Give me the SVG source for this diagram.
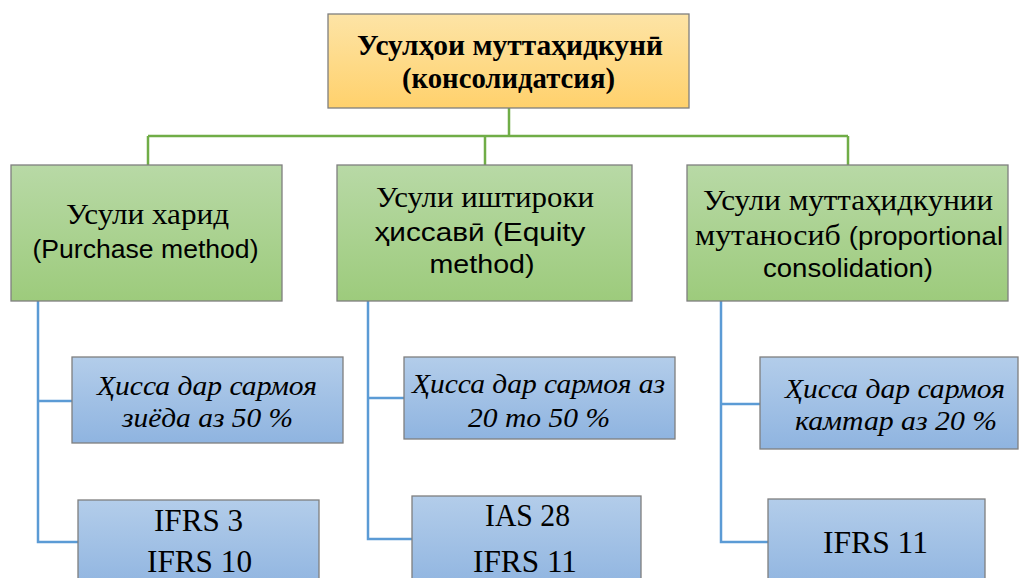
<svg xmlns="http://www.w3.org/2000/svg" width="1020" height="578" viewBox="0 0 1020 578">
<defs>
<linearGradient id="gOrange" x1="0" y1="0" x2="0" y2="1"><stop offset="0" stop-color="#fde4a6"/><stop offset="1" stop-color="#ffd16c"/></linearGradient>
<linearGradient id="gGreen" x1="0" y1="0" x2="0" y2="1"><stop offset="0" stop-color="#b8d9a6"/><stop offset="1" stop-color="#9dcb7c"/></linearGradient>
<linearGradient id="gBlue" x1="0" y1="0" x2="0" y2="1"><stop offset="0" stop-color="#b3cdea"/><stop offset="1" stop-color="#8fb4e0"/></linearGradient>
<style>
.box{stroke:#7f7f7f;stroke-width:1.3}
.or{fill:url(#gOrange)}
.gr{fill:url(#gGreen)}
.bl{fill:url(#gBlue)}
.t{font-family:"Liberation Serif","Times New Roman",serif;fill:#000;text-anchor:middle}
.tb{font-weight:bold;font-size:29px}
.tg{font-size:29px}
.ti{font-style:italic;font-size:28px}
.tn{font-size:31px}
.s{font-family:"Liberation Sans",Arial,sans-serif;font-size:25px}
.cg{stroke:#70ad47;stroke-width:2.5;fill:none}
.cb{stroke:#5b9bd5;stroke-width:2.5;fill:none}
</style>
</defs>
<g id="connectors">
<path class="cg" d="M509 108V136M148 136H848M148 136V165M485 136V165M848 136V165"/>
<path class="cb" d="M38 301V542H78M38 401H72"/>
<path class="cb" d="M368 301V539H412M368 398H404"/>
<path class="cb" d="M721 301V542H768M721 404H760"/>
</g>
<g id="root">
<rect class="box or" x="328" y="14" width="361" height="94"/>
<text class="t tb" x="510" y="55" textLength="306" lengthAdjust="spacingAndGlyphs">Усулҳои муттаҳидкунӣ</text>
<text class="t tb" x="508.5" y="88" textLength="213" lengthAdjust="spacingAndGlyphs">(консолидатсия)</text>
</g>
<g id="purchase">
<rect class="box gr" x="11" y="165" width="271" height="136"/>
<text class="t tg" x="147.5" y="224" textLength="163" lengthAdjust="spacingAndGlyphs">Усули харид</text>
<text class="t s" x="145.5" y="258" textLength="226" lengthAdjust="spacingAndGlyphs">(Purchase method)</text>
</g>
<g id="equity">
<rect class="box gr" x="337" y="165" width="295" height="136"/>
<text class="t tg" x="485" y="207" textLength="218" lengthAdjust="spacingAndGlyphs">Усули иштироки</text>
<text class="t s" x="480" y="241" textLength="211" lengthAdjust="spacingAndGlyphs">ҳиссавӣ (Equity</text>
<text class="t s" x="482" y="273" textLength="105" lengthAdjust="spacingAndGlyphs">method)</text>
</g>
<g id="proportional">
<rect class="box gr" x="687" y="165" width="321" height="136"/>
<text class="t tg" x="848" y="210" textLength="290" lengthAdjust="spacingAndGlyphs">Усули муттаҳидкунии</text>
<text class="t" x="849" y="245" textLength="308" lengthAdjust="spacingAndGlyphs"><tspan class="tg">мутаносиб </tspan><tspan class="s">(proportional</tspan></text>
<text class="t s" x="848" y="277" textLength="170" lengthAdjust="spacingAndGlyphs">consolidation)</text>
</g>
<g id="share50">
<rect class="box bl" x="72" y="357" width="271" height="86"/>
<text class="t ti" x="207" y="395" textLength="220" lengthAdjust="spacingAndGlyphs">Ҳисса дар сармоя</text>
<text class="t ti" x="207.5" y="427" textLength="171" lengthAdjust="spacingAndGlyphs">зиёда аз 50 %</text>
</g>
<g id="ifrs3-10">
<rect class="box bl" x="78" y="500" width="241" height="90"/>
<text class="t tn" x="198.5" y="531" textLength="89" lengthAdjust="spacingAndGlyphs">IFRS 3</text>
<text class="t tn" x="199.5" y="572" textLength="105" lengthAdjust="spacingAndGlyphs">IFRS 10</text>
</g>
<g id="share20-50">
<rect class="box bl" x="404" y="357" width="271" height="82"/>
<text class="t ti" x="538.5" y="393" textLength="253" lengthAdjust="spacingAndGlyphs">Ҳисса дар сармоя аз</text>
<text class="t ti" x="539" y="427" textLength="142" lengthAdjust="spacingAndGlyphs">20 то 50 %</text>
</g>
<g id="ias28">
<rect class="box bl" x="412" y="496" width="229" height="94"/>
<text class="t tn" x="527.5" y="526" textLength="85" lengthAdjust="spacingAndGlyphs">IAS 28</text>
<text class="t tn" x="525" y="572" textLength="104" lengthAdjust="spacingAndGlyphs">IFRS 11</text>
</g>
<g id="share20">
<rect class="box bl" x="760" y="357" width="258" height="92"/>
<text class="t ti" x="895" y="398" textLength="220" lengthAdjust="spacingAndGlyphs">Ҳисса дар сармоя</text>
<text class="t ti" x="896" y="430" textLength="202" lengthAdjust="spacingAndGlyphs">камтар аз 20 %</text>
</g>
<g id="ifrs11">
<rect class="box bl" x="768" y="499" width="217" height="91"/>
<text class="t tn" x="875.5" y="553" textLength="105" lengthAdjust="spacingAndGlyphs">IFRS 11</text>
</g>
</svg>
